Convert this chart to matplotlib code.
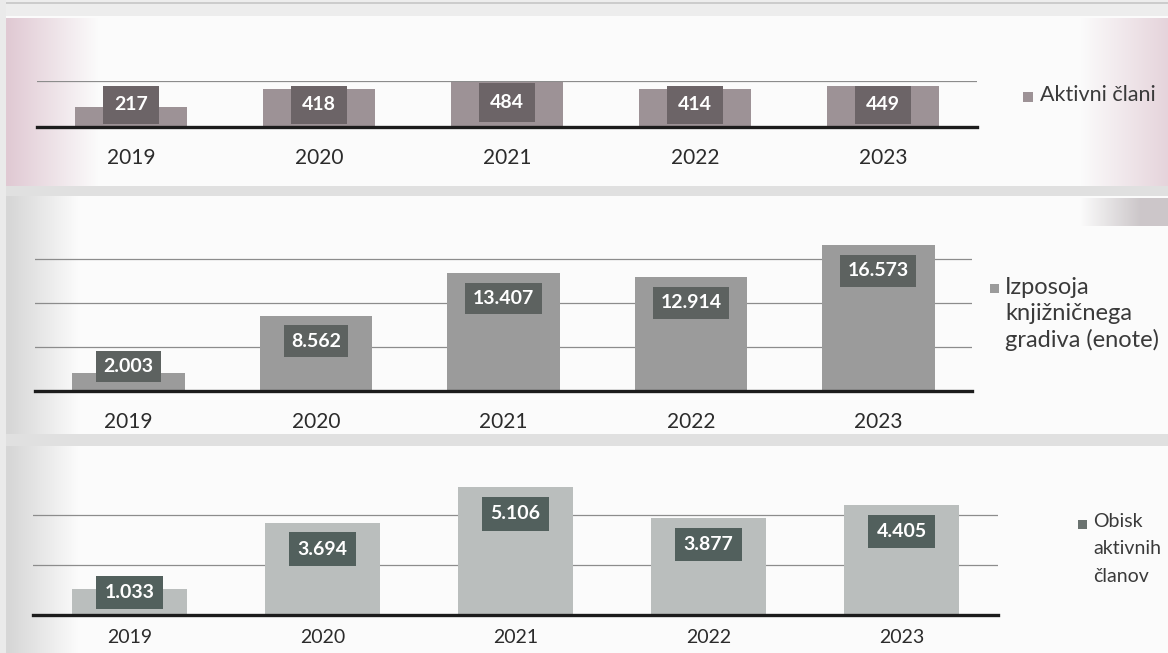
import numpy as np
import matplotlib
matplotlib.use("Agg")
import matplotlib.pyplot as plt
from matplotlib.patches import Rectangle

plt.rcParams['font.family'] = ['Lato', 'DejaVu Sans']

# ---------------- data ----------------
years = ["2019", "2020", "2021", "2022", "2023"]
aktivni_clani = [217, 418, 484, 414, 449]
aktivni_labels = ["217", "418", "484", "414", "449"]
izposoja = [2003, 8562, 13407, 12914, 16573]
izposoja_labels = ["2.003", "8.562", "13.407", "12.914", "16.573"]
obisk = [1033, 3694, 5106, 3877, 4405]
obisk_labels = ["1.033", "3.694", "5.106", "3.877", "4.405"]

legend_top = "Aktivni člani"
legend_mid = "Izposoja\nknjižničnega\ngradiva (enote)"
legend_bot = "Obisk\naktivnih\nčlanov"

W, H = 1168, 653
fig = plt.figure(figsize=(W / 100, H / 100), dpi=100)

# ---------------- scanned-page background ----------------
img = np.ones((H, W, 3)) * 0.985
xs = np.arange(W)[None, :]
img[0:16, :, :] = 0.93
img[2:4, :, :] = 0.80
img[186:196, :, :] = 0.88
img[434:446, :, :] = 0.88
f = np.clip(1 - (xs - 8) / 90.0, 0, 1)[:, :, None]
pink = np.array([0.88, 0.79, 0.83])
img[18:186, :, :] = img[18:186, :, :] * (1 - f) + pink * f
f = np.clip((xs - 1080) / 88.0, 0, 1)[:, :, None]
pink2 = np.array([0.90, 0.83, 0.86])
img[18:186, :, :] = img[18:186, :, :] * (1 - f) + pink2 * f
f = np.clip(1 - (xs - 8) / 70.0, 0, 1)[:, :, None]
gray = np.array([0.84, 0.84, 0.84])
img[196:434, :, :] = img[196:434, :, :] * (1 - f) + gray * f
img[446:653, :, :] = img[446:653, :, :] * (1 - f) + gray * f
f = np.clip((xs - 1080) / 60.0, 0, 1)[:, :, None]
img[198:226, :, :] = img[198:226, :, :] * (1 - f) + np.array([0.80, 0.78, 0.79]) * f
img[:, 0:6, :] = 0.92
bg = fig.add_axes([0, 0, 1, 1], zorder=-10)
bg.imshow(img, aspect='auto', extent=[0, 1, 0, 1], origin='upper', interpolation='bilinear')
bg.set_xlim(0, 1)
bg.set_ylim(0, 1)
bg.axis('off')


def px_rect(x0, x1, ytop, ybot):
    return [x0 / W, 1 - ybot / H, (x1 - x0) / W, (ybot - ytop) / H]


def panel(rect, values, labels, ymax, grid, bar_color, box_color,
          gap_top, box_h, gap_bot, pad, label_pad, label_size=15):
    ax = fig.add_axes(rect)
    ax.set_facecolor('none')
    x = np.arange(len(values))
    ax.bar(x, values, width=0.6, color=bar_color, zorder=2)
    ax.set_xlim(-0.5, len(values) - 0.5)
    ax.set_ylim(0, ymax)
    ax.set_yticks(grid)
    ax.yaxis.grid(True, color='#8c8c8c', linewidth=0.9, zorder=1)
    ax.tick_params(axis='y', length=0, labelleft=False)
    ax.set_xticks(x, years)
    ax.tick_params(axis='x', length=0, pad=label_pad, labelsize=label_size,
                   labelcolor='#2b2b2b')
    for s in ['top', 'left', 'right']:
        ax.spines[s].set_visible(False)
    ax.spines['bottom'].set_linewidth(2.4)
    ax.spines['bottom'].set_color('#1c1c1c')
    ax.spines['bottom'].set_zorder(4)
    ax.set_axisbelow(True)
    ax_h_px = rect[3] * H
    ppu = ax_h_px / ymax
    for xi, v, lab in zip(x, values, labels):
        barh = v * ppu
        c = max(barh - gap_top - box_h / 2, gap_bot + box_h / 2)
        ax.text(xi, c / ppu, lab, ha='center', va='center', fontsize=14,
                fontweight='bold', color='white', zorder=5,
                bbox=dict(boxstyle='square,pad=%.2f' % pad, fc=box_color, ec='none'))
    return ax


ax1 = panel(px_rect(37, 977, 81, 127), aktivni_clani, aktivni_labels, 500, [500],
            '#9d9296', '#6c6467', 0, 40, 2, 0.55, 15)
ax2 = panel(px_rect(35, 972, 391 - 17000 * 44 / 5000, 391), izposoja, izposoja_labels,
            17000, [5000, 10000, 15000], '#9b9b9b', '#5d6260', 9, 33, 8, 0.38, 15)
ax3 = panel(px_rect(33, 998, 615 - 5500 * 25 / 1000, 615), obisk, obisk_labels,
            5500, [2000, 4000], '#babebd', '#52605d', 9, 35, 5, 0.42, 10, 14)


def legend_item(xm, ym, xt, yt, text, color, size, linespacing, msize):
    fig.patches.append(Rectangle(((xm - msize / 2) / W, 1 - (ym + msize / 2) / H),
                                 msize / W, msize / H,
                                 transform=fig.transFigure, fc=color, ec='none'))
    fig.text(xt / W, 1 - yt / H, text, ha='left', va='top', fontsize=size,
             color='#3a3a3a', linespacing=linespacing)


legend_item(1028, 97, 1040, 85, legend_top, '#9d9296', 15.5, 1.2, 10)
legend_item(994, 288, 1005, 277, legend_mid, '#9b9b9b', 17, 1.27, 9)
legend_item(1082, 524, 1093, 513, legend_bot, '#6a726f', 14, 1.75, 9)

fig.savefig('out.png', dpi=100)
